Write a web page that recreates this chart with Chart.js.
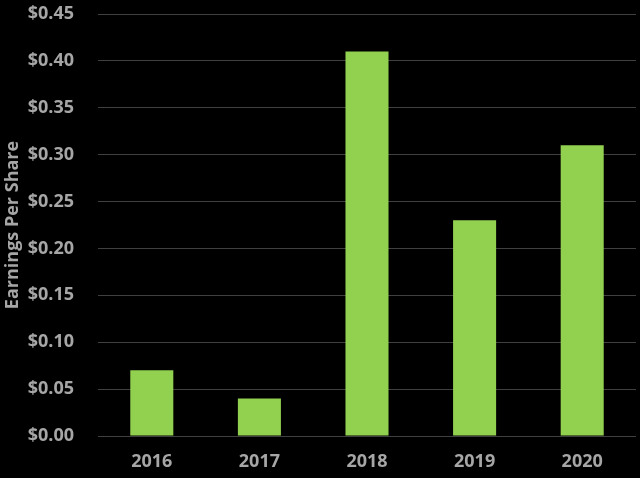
<!DOCTYPE html>
<html>
<head>
<meta charset="utf-8">
<script src="https://cdn.jsdelivr.net/npm/chart.js@4/dist/chart.umd.min.js"></script>
<style>
html,body{margin:0;padding:0;background:#000;}
#wrap{width:640px;height:478px;}
</style>
</head>
<body>
<div id="wrap"><canvas id="c" width="640" height="478"></canvas></div>
<script>
const categories = ["2016", "2017", "2018", "2019", "2020"];
const eps = [0.07, 0.04, 0.41, 0.23, 0.31];
const yTitle = "Earnings Per Share";

const FONT = "'Open Sans', 'Liberation Sans', sans-serif";
new Chart(document.getElementById('c'), {
  type: 'bar',
  data: {
    labels: categories,
    datasets: [{
      data: eps,
      backgroundColor: '#92D050',
      borderWidth: 0,
      categoryPercentage: 1.0,
      barPercentage: 0.4
    }]
  },
  options: {
    responsive: false,
    animation: false,
    layout: { padding: { top: 14, right: 4, left: 2, bottom: 0 } },
    plugins: { legend: { display: false }, tooltip: { enabled: false } },
    scales: {
      x: {
        grid: { display: false, drawTicks: false },
        border: { display: false },
        ticks: { color: '#A6A6A6', font: { family: FONT, size: 18, weight: 'bold' }, padding: 15 },
        afterFit: s => { s.height = 42; s.paddingLeft = 0; s.paddingRight = 0; }
      },
      y: {
        min: 0, max: 0.45,
        grid: { color: '#404040', lineWidth: 1, drawTicks: false },
        border: { display: false },
        ticks: {
          stepSize: 0.05,
          color: '#A6A6A6',
          font: { family: FONT, size: 18, weight: 'bold' },
          padding: 24,
          callback: v => '$' + Number(v).toFixed(2)
        },
        title: {
          display: true, text: yTitle, color: '#A6A6A6',
          font: { family: FONT, size: 18, weight: 'bold' }, padding: 0
        },
        afterFit: s => { s.width = 96; s.paddingTop = 0; s.paddingBottom = 0; }
      }
    }
  },
  plugins: [{
    id: 'bg',
    beforeDraw: ch => { const c = ch.ctx; c.save(); c.fillStyle = '#000'; c.fillRect(0, 0, ch.width, ch.height); c.restore(); }
  }]
});
</script>
</body>
</html>
